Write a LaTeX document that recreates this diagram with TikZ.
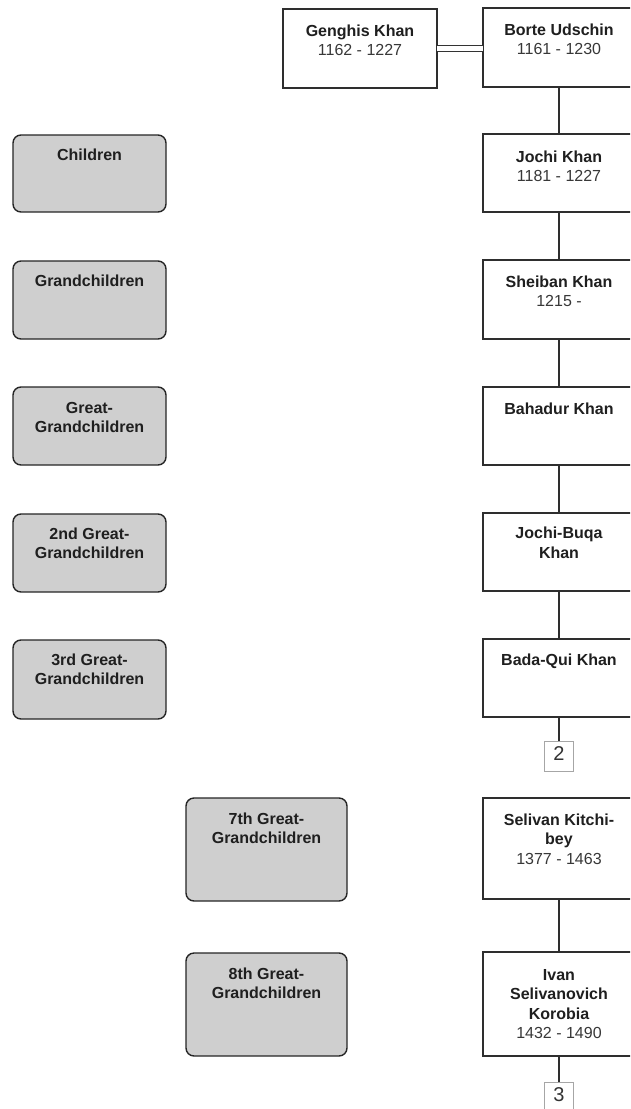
\documentclass[tikz,border=0pt]{standalone}
\usepackage{fontspec}
\setmainfont{Liberation Sans}

% text block inside a card: width, height, first baseline, lines
\newcommand\cardtext[4]{\parbox[c][#2][t]{#1}{\centering\fontsize{16}{19.5}\selectfont\rule{0pt}{#3}#4}}
\newcommand\reftext[1]{\parbox[c][30pt][t]{29pt}{\centering\fontsize{20}{24}\selectfont\color{black!80}\rule{0pt}{19.5pt}#1}}
\newcommand\who[1]{\textbf{\color{black!88}#1}}
\newcommand\when[1]{{\color{black!78}#1}}

\tikzset{
  person/.style={draw=black!82, line width=1.2pt, fill=white, inner sep=0pt, outer sep=0pt, anchor=north west},
  generation/.style={draw=black!85, line width=1.4pt, fill=black!19, rounded corners=8pt, inner sep=0pt, outer sep=0pt, anchor=north west},
  pageref/.style={draw=black!35, line width=0.7pt, fill=white, inner sep=0pt, outer sep=0pt, anchor=north west},
  descent/.style={draw=black!82, line width=1.5pt},
  marriage/.style={draw=black!80, line width=1.1pt, double=white, double distance=4.5pt}
}

\begin{document}
\begin{tikzpicture}[x=1pt,y=-1pt]
\useasboundingbox (0,0) rectangle (630,1109);
\clip (0,0) rectangle (630,1109);
\fill[white] (0,0) rectangle (630,1109);

% generation labels
\node[generation] (children) at (13,135) {\cardtext{153pt}{77pt}{25.5pt}{\who{Children}}};
\node[generation] (grand)    at (13,261) {\cardtext{153pt}{78pt}{25.5pt}{\who{Grandchildren}}};
\node[generation] (great1)   at (13,387) {\cardtext{153pt}{78pt}{26pt}{\who{Great-}\\\who{Grandchildren}}};
\node[generation] (great2)   at (13,514) {\cardtext{153pt}{78pt}{25pt}{\who{2nd Great-}\\\who{Grandchildren}}};
\node[generation] (great3)   at (13,640) {\cardtext{153pt}{79pt}{25pt}{\who{3rd Great-}\\\who{Grandchildren}}};
\node[generation] (great7)   at (186,798) {\cardtext{161pt}{103pt}{26pt}{\who{7th Great-}\\\who{Grandchildren}}};
\node[generation] (great8)   at (186,953) {\cardtext{161pt}{103pt}{26pt}{\who{8th Great-}\\\who{Grandchildren}}};

% people
\node[person] (genghis) at (283,9)   {\cardtext{154pt}{79pt}{27pt}{\who{Genghis Khan}\\\when{1162 - 1227}}};
\node[person] (borte)   at (483,8)   {\cardtext{152pt}{79pt}{27pt}{\who{Borte Udschin}\\\when{1161 - 1230}}};
\node[person] (jochi)   at (483,134) {\cardtext{152pt}{78pt}{28pt}{\who{Jochi Khan}\\\when{1181 - 1227}}};
\node[person] (sheiban) at (483,260) {\cardtext{152pt}{79pt}{27pt}{\who{Sheiban Khan}\\\when{1215 -}}};
\node[person] (bahadur) at (483,387) {\cardtext{152pt}{78pt}{27pt}{\who{Bahadur Khan}}};
\node[person] (buqa)    at (483,513) {\cardtext{152pt}{78pt}{25.5pt}{\who{Jochi-Buqa}\\\who{Khan}}};
\node[person] (bada)    at (483,639) {\cardtext{152pt}{78pt}{26.5pt}{\who{Bada-Qui Khan}}};
\node[person] (selivan) at (483,798) {\cardtext{152pt}{101pt}{27pt}{\who{Selivan Kitchi-}\\\who{bey}\\\when{1377 - 1463}}};
\node[person] (ivan)    at (483,952) {\cardtext{152pt}{104pt}{28pt}{\who{Ivan}\\\who{Selivanovich}\\\who{Korobia}\\\when{1432 - 1490}}};

% continuation markers
\node[pageref] (ref2) at (544.5,741)  {\reftext{2}};
\node[pageref] (ref3) at (544.5,1082) {\reftext{3}};

% connectors
\draw[marriage] (genghis.east) -- (genghis.east -| borte.west);
\draw[descent] (borte.south)   -- (jochi.north);
\draw[descent] (jochi.south)   -- (sheiban.north);
\draw[descent] (sheiban.south) -- (bahadur.north);
\draw[descent] (bahadur.south) -- (buqa.north);
\draw[descent] (buqa.south)    -- (bada.north);
\draw[descent] (bada.south)    -- (ref2.north);
\draw[descent] (selivan.south) -- (ivan.north);
\draw[descent] (ivan.south)    -- (ref3.north);
\end{tikzpicture}
\end{document}
